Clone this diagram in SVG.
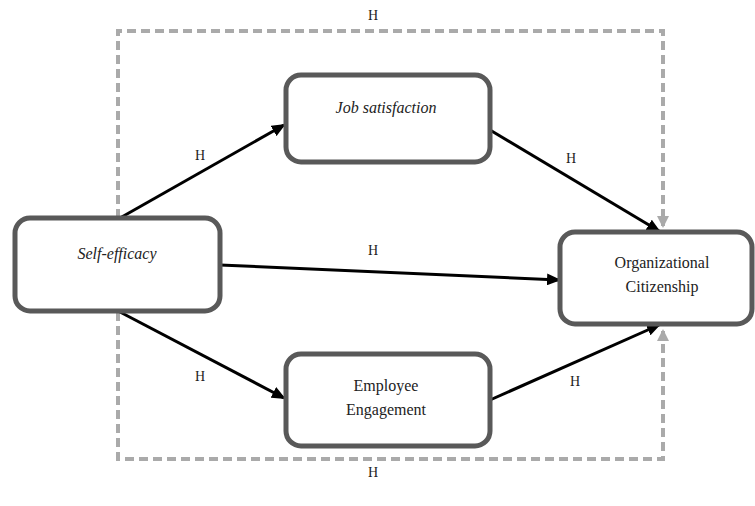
<svg xmlns="http://www.w3.org/2000/svg" width="755" height="506" viewBox="0 0 755 506">
<defs>
<marker id="ah" markerWidth="14" markerHeight="12" refX="12" refY="6" orient="auto" markerUnits="userSpaceOnUse" viewBox="0 0 14 12">
<path d="M0,0 L14,6 L0,12 z" fill="#000"/>
</marker>
<marker id="ag" markerWidth="12" markerHeight="12" refX="10" refY="6" orient="auto" markerUnits="userSpaceOnUse" viewBox="0 0 12 12">
<path d="M0,0 L12,6 L0,12 z" fill="#aaa"/>
</marker>
<style>
.box{fill:#fff;stroke:#595959;stroke-width:5}
.t{font-family:"Liberation Serif","Times New Roman",serif;font-size:16px;fill:#222;text-anchor:middle}
.i{font-style:italic}
.h{font-family:"Liberation Serif","Times New Roman",serif;font-size:14px;fill:#222;text-anchor:middle}
.c{stroke:#000;stroke-width:3;fill:none;marker-end:url(#ah)}
.d{stroke:#aaa;stroke-width:4;fill:none;stroke-dasharray:9,5}
</style>
</defs>
<rect width="755" height="506" fill="#fff"/>
<g id="connectors">
<path class="d" d="M118,218 L118,31 L663,31 L663,226" marker-end="url(#ag)"/>
<path class="d" d="M118,312 L118,459 L663,459 L663,331" marker-end="url(#ag)"/>
<line class="c" x1="120" y1="218" x2="284" y2="125"/>
<line class="c" x1="490" y1="130" x2="659" y2="231"/>
<line class="c" x1="220" y1="265" x2="559" y2="280"/>
<line class="c" x1="120" y1="312" x2="284" y2="398"/>
<line class="c" x1="490" y1="400" x2="659" y2="325"/>
</g>
<g id="labels">
<text class="h" x="373" y="20">H</text>
<text class="h" x="200" y="160">H</text>
<text class="h" x="571" y="163">H</text>
<text class="h" x="373" y="255">H</text>
<text class="h" x="200" y="381">H</text>
<text class="h" x="575" y="386">H</text>
<text class="h" x="373" y="477">H</text>
</g>
<g id="self-efficacy">
<rect class="box" x="15" y="218" width="205" height="93" rx="15"/>
<text class="t i" x="117" y="259">Self-efficacy</text>
</g>
<g id="job-satisfaction">
<rect class="box" x="286" y="75" width="204" height="87" rx="15"/>
<text class="t i" x="386" y="113">Job satisfaction</text>
</g>
<g id="employee-engagement">
<rect class="box" x="286" y="354" width="204" height="92" rx="15"/>
<text class="t" x="386" y="391">Employee</text>
<text class="t" x="386" y="415">Engagement</text>
</g>
<g id="ocb">
<rect class="box" x="560" y="232" width="192" height="92" rx="15"/>
<text class="t" x="662" y="268">Organizational</text>
<text class="t" x="662" y="292">Citizenship</text>
</g>
</svg>
